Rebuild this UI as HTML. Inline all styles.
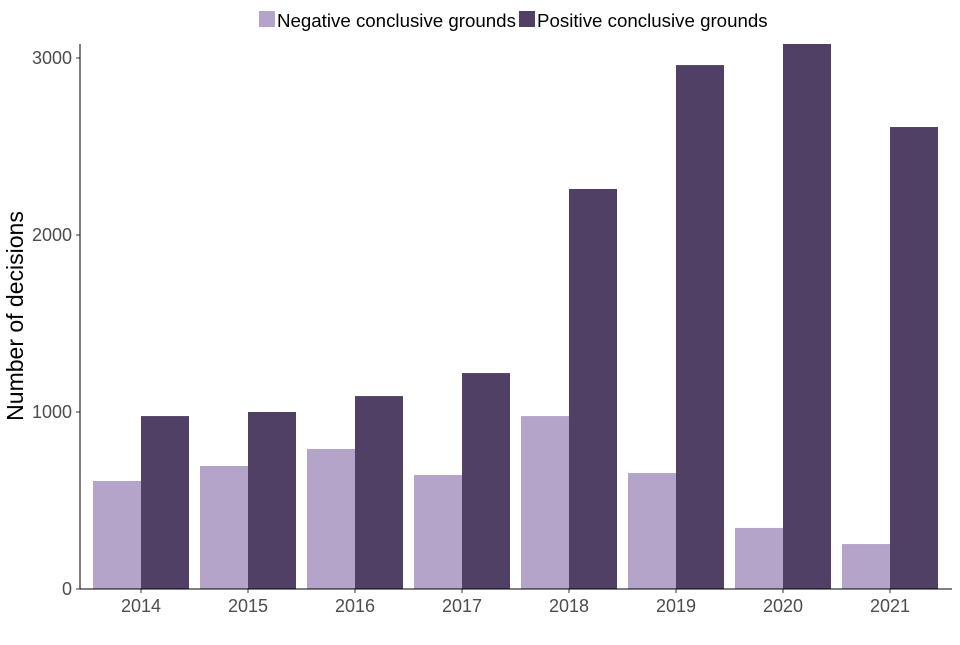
<!DOCTYPE html>
<html><head><meta charset="utf-8"><style>
body{margin:0;background:#fff;font-family:"Liberation Sans",Arial,sans-serif;}
svg text{font-family:"Liberation Sans",Arial,sans-serif;}
</style></head><body>
<svg id="chart" width="960" height="640" xmlns="http://www.w3.org/2000/svg">
<g>
<rect x="259" y="11" width="16" height="16" fill="#b5a4c9"/>
<text x="277" y="27" font-size="18.7" fill="#000">Negative conclusive grounds</text>
<rect x="519" y="11" width="16" height="16" fill="#514066"/>
<text x="537" y="27" font-size="18.7" fill="#000">Positive conclusive grounds</text>
</g>
<text transform="translate(23,316) rotate(-90)" text-anchor="middle" font-size="23" fill="#000">Number of decisions</text>
<g id="bars"></g>
<g id="axes"></g>
</svg>
<script>
const categories=["2014","2015","2016","2017","2018","2019","2020","2021"];
const negative=[610,695,791,644,977,655,345,254];
const positive=[977,1000,1090,1220,2260,2960,3079,2610];
const yTicks=[0,1000,2000,3000];
const NS="http://www.w3.org/2000/svg";
const plotLeft=80,plotRight=952,plotTop=44,plotBottom=589;
const ymax=Math.max(...positive,...negative);
const y=v=>plotBottom-(v/ymax)*(plotBottom-plotTop);
const unit=107;
const firstCenter=141;
const xc=i=>firstCenter+unit*i;
const bw=48;
const barsG=document.getElementById('bars'),axesG=document.getElementById('axes');
function mk(t,a,p){const e=document.createElementNS(NS,t);for(const k in a)e.setAttribute(k,a[k]);p.appendChild(e);return e;}
categories.forEach((c,i)=>{
 const r1=mk('rect',{x:xc(i)-bw,y:y(negative[i]),width:bw,height:plotBottom-y(negative[i]),fill:'#b5a4c9'},barsG);
 
 
 const r2=mk('rect',{x:xc(i),y:y(positive[i]),width:bw,height:plotBottom-y(positive[i]),fill:'#514066'},barsG);
 
 
 const t=mk('text',{x:xc(i),y:plotBottom+23,'text-anchor':'middle','font-size':'18',fill:'#4d4d4d'},axesG);
 t.textContent=c;
 
 
 mk('line',{x1:xc(i),x2:xc(i),y1:plotBottom,y2:plotBottom+4,stroke:'#333'},axesG);
});
yTicks.forEach(v=>{
 const t=mk('text',{x:plotLeft-8,y:y(v)+6,'text-anchor':'end','font-size':'18',fill:'#4d4d4d'},axesG);
 t.textContent=v;
 
 
 mk('line',{x1:plotLeft-4,x2:plotLeft,y1:y(v),y2:y(v),stroke:'#333'},axesG);
});
const xa=mk('line',{x1:plotLeft,x2:plotRight,y1:plotBottom,y2:plotBottom,stroke:'#000','stroke-width':1},axesG);


const ya=mk('line',{x1:plotLeft,x2:plotLeft,y1:plotTop,y2:plotBottom,stroke:'#000','stroke-width':1},axesG);


</script>
</body></html>
